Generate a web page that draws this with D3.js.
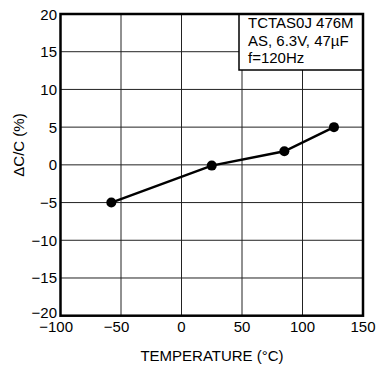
<!DOCTYPE html>
<html><head><meta charset="utf-8">
<script src="https://cdn.jsdelivr.net/npm/d3@7"></script>
<style>body{margin:0;background:#fff}svg text{font-family:"Liberation Sans",Arial,sans-serif;fill:#000}</style>
</head><body><svg id="c" width="376" height="368"></svg>
<script>
const temps = [-58, 25, 85, 126];
const dcc = [-5, -0.1, 1.8, 5];
const xTicks = [-100, -50, 0, 50, 100, 150];
const yTicks = [-20, -15, -10, -5, 0, 5, 10, 15, 20];
const legendLines = ["TCTAS0J 476M", "AS, 6.3V, 47\u00B5F", "f=120Hz"];
const xTitle = "TEMPERATURE (\u00B0C)";
const yTitle = "\u0394C/C  (%)";

const svg = d3.select("#c");
const L = 60.5, R = 363, T = 14, B = 315.7;
const x = d3.scaleLinear().domain([-100, 150]).range([L, R]);
const y = d3.scaleLinear().domain([-20, 20]).range([B, T]);
const fmt = v => (v < 0 ? "\u2212" + Math.abs(v) : String(v));

// grid
svg.append("g").selectAll("line").data(xTicks.slice(1, -1)).join("line")
  .attr("x1", d => x(d)).attr("x2", d => x(d)).attr("y1", T).attr("y2", B)
  .attr("stroke", "#222").attr("stroke-width", 1);
svg.append("g").selectAll("line").data(yTicks.slice(1, -1)).join("line")
  .attr("y1", d => y(d)).attr("y2", d => y(d)).attr("x1", L).attr("x2", R)
  .attr("stroke", "#222").attr("stroke-width", 1);

// legend box
const lg = svg.append("g");
lg.append("rect").attr("x", 239).attr("y", T).attr("width", R - 239).attr("height", 56)
  .attr("fill", "#fff").attr("stroke", "#000").attr("stroke-width", 1.5);
lg.selectAll("text").data(legendLines).join("text")
  .attr("x", 248).attr("y", (d, i) => 28 + i * 17.5)
  .attr("font-size", 15).text(d => d);

// border
svg.append("rect").attr("x", L).attr("y", T).attr("width", R - L).attr("height", B - T)
  .attr("fill", "none").attr("stroke", "#000").attr("stroke-width", 2.5);

// data
const pts = temps.map((t, i) => [t, dcc[i]]);
svg.append("path").datum(pts)
  .attr("d", d3.line().x(d => x(d[0])).y(d => y(d[1])))
  .attr("fill", "none").attr("stroke", "#000").attr("stroke-width", 2.5);
svg.append("g").selectAll("circle").data(pts).join("circle")
  .attr("cx", d => x(d[0])).attr("cy", d => y(d[1])).attr("r", 5).attr("fill", "#000");

// tick labels
svg.append("g").selectAll("text").data(xTicks).join("text")
  .attr("x", d => x(d) + (d < 0 ? -4.4 : 0)).attr("y", 331.5)
  .attr("text-anchor", "middle").attr("font-size", 15).text(fmt);
svg.append("g").selectAll("text").data(yTicks).join("text")
  .attr("x", 57).attr("y", d => y(d) + 5.5 - (d === -20 ? 3 : 0))
  .attr("text-anchor", "end").attr("font-size", 15).text(fmt);

// titles
svg.append("text").attr("x", 212).attr("y", 361).attr("text-anchor", "middle")
  .attr("font-size", 15).text(xTitle);
svg.append("text").attr("transform", "translate(24,145) rotate(-90)")
  .attr("text-anchor", "middle").attr("font-size", 15).text(yTitle);
</script></body></html>
